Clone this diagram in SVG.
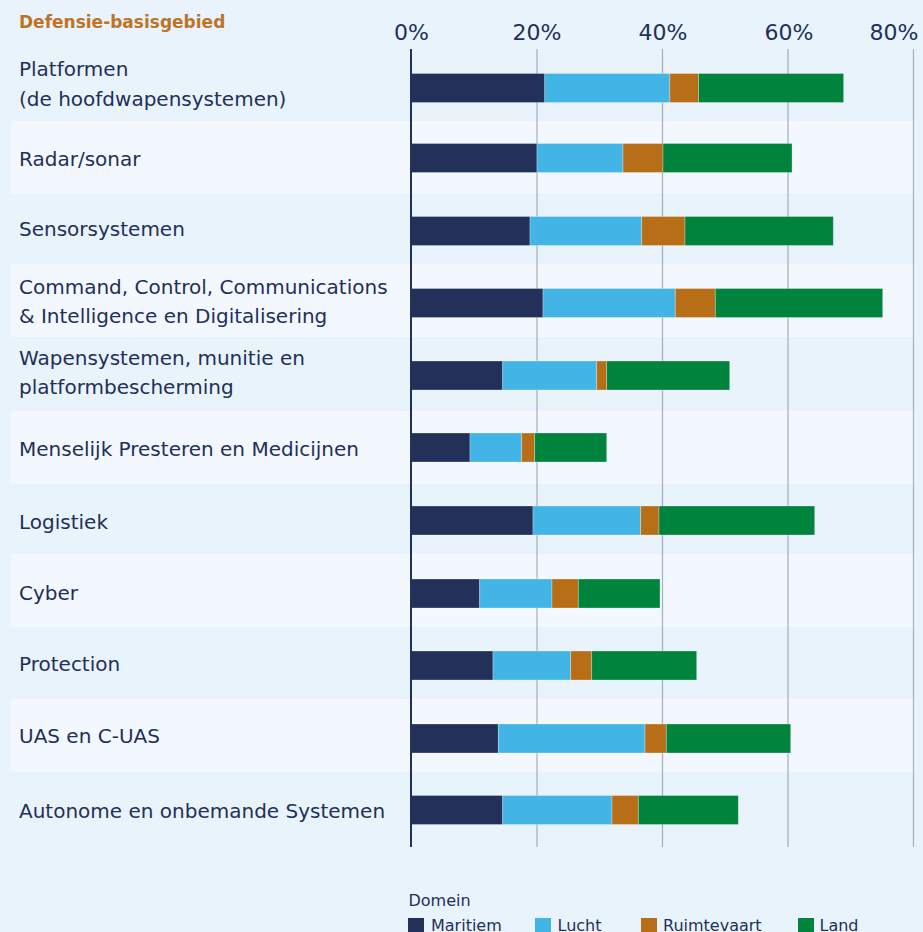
<svg xmlns="http://www.w3.org/2000/svg" width="923" height="932" viewBox="0 0 923 932">
<style>
.lbl{font-family:"DejaVu Sans",sans-serif;font-size:20px;fill:#22305A}
.tick{font-family:"DejaVu Sans",sans-serif;font-size:22px;fill:#22305A;text-anchor:middle}
.hdr{font-family:"DejaVu Sans",sans-serif;font-size:17px;font-weight:bold;fill:#BE7425}
.leg{font-family:"DejaVu Sans",sans-serif;font-size:16px;fill:#22305A}
.band{fill:#F3F8FE}
.grid{stroke:#A9B2BE;stroke-width:1.3}
.m{fill:#22305A}.l{fill:#42B4E6}.r{fill:#B86E17}.g{fill:#00843D}
.bar rect{stroke:#ffffff;stroke-opacity:0.35;stroke-width:0.8}
</style>
<rect x="0" y="0" width="923" height="932" fill="#E9F3FC"/>
<g id="bands">
<rect class="band" x="11" y="121" width="904" height="72.5"/>
<rect class="band" x="11" y="264" width="904" height="73"/>
<rect class="band" x="11" y="411" width="904" height="73"/>
<rect class="band" x="11" y="554" width="904" height="73"/>
<rect class="band" x="11" y="699" width="904" height="72.5"/>
</g>
<g id="grid">
<line class="grid" x1="537" y1="49" x2="537" y2="847"/>
<line class="grid" x1="662.5" y1="49" x2="662.5" y2="847"/>
<line class="grid" x1="788" y1="49" x2="788" y2="847"/>
<line class="grid" x1="913.5" y1="49" x2="913.5" y2="847"/>
</g>
<g id="ticks">
<text class="tick" x="411.5" y="40">0%</text>
<text class="tick" x="537" y="40">20%</text>
<text class="tick" x="663" y="40">40%</text>
<text class="tick" x="789" y="40">60%</text>
<text class="tick" x="918.5" y="40" style="text-anchor:end">80%</text>
</g>
<text class="hdr" x="19" y="27.5">Defensie-basisgebied</text>
<g id="labels">
<text class="lbl" x="19" y="76">Platformen</text>
<text class="lbl" x="19" y="106">(de hoofdwapensystemen)</text>
<text class="lbl" x="19" y="165.5">Radar/sonar</text>
<text class="lbl" x="19" y="235.5">Sensorsystemen</text>
<text class="lbl" x="19" y="294.3">Command, Control, Communications</text>
<text class="lbl" x="19" y="323.3">&amp; Intelligence en Digitalisering</text>
<text class="lbl" x="19" y="365">Wapensystemen, munitie en</text>
<text class="lbl" x="19" y="394.3">platformbescherming</text>
<text class="lbl" x="19" y="455.7">Menselijk Presteren en Medicijnen</text>
<text class="lbl" x="19" y="529.3">Logistiek</text>
<text class="lbl" x="19" y="600">Cyber</text>
<text class="lbl" x="19" y="671">Protection</text>
<text class="lbl" x="19" y="743.3">UAS en C-UAS</text>
<text class="lbl" x="19" y="817.7">Autonome en onbemande Systemen</text>
</g>
<g id="bars" class="bar">
<g id="bar-platformen"><rect class="m" x="411" y="73.5" width="133.8" height="29"/><rect class="l" x="544.8" y="73.5" width="125" height="29"/><rect class="r" x="669.8" y="73.5" width="28.8" height="29"/><rect class="g" x="698.6" y="73.5" width="145" height="29"/></g>
<g id="bar-radar"><rect class="m" x="411" y="143.5" width="126" height="29"/><rect class="l" x="537" y="143.5" width="86" height="29"/><rect class="r" x="623" y="143.5" width="40" height="29"/><rect class="g" x="663" y="143.5" width="129" height="29"/></g>
<g id="bar-sensor"><rect class="m" x="411" y="216.5" width="119" height="29"/><rect class="l" x="530" y="216.5" width="111.7" height="29"/><rect class="r" x="641.7" y="216.5" width="43.3" height="29"/><rect class="g" x="685" y="216.5" width="148.3" height="29"/></g>
<g id="bar-c2"><rect class="m" x="411" y="288.5" width="132" height="29"/><rect class="l" x="543" y="288.5" width="132.3" height="29"/><rect class="r" x="675.3" y="288.5" width="40" height="29"/><rect class="g" x="715.3" y="288.5" width="167.4" height="29"/></g>
<g id="bar-wapen"><rect class="m" x="411" y="361" width="91.7" height="29"/><rect class="l" x="502.7" y="361" width="94" height="29"/><rect class="r" x="596.7" y="361" width="10" height="29"/><rect class="g" x="606.7" y="361" width="123" height="29"/></g>
<g id="bar-menselijk"><rect class="m" x="411" y="433" width="59" height="29"/><rect class="l" x="470" y="433" width="51.7" height="29"/><rect class="r" x="521.7" y="433" width="13" height="29"/><rect class="g" x="534.7" y="433" width="72" height="29"/></g>
<g id="bar-logistiek"><rect class="m" x="411" y="506" width="122" height="29"/><rect class="l" x="533" y="506" width="107.7" height="29"/><rect class="r" x="640.7" y="506" width="18.3" height="29"/><rect class="g" x="659" y="506" width="155.7" height="29"/></g>
<g id="bar-cyber"><rect class="m" x="411" y="579" width="68.7" height="29"/><rect class="l" x="479.7" y="579" width="72.3" height="29"/><rect class="r" x="552" y="579" width="26.3" height="29"/><rect class="g" x="578.3" y="579" width="81.7" height="29"/></g>
<g id="bar-protection"><rect class="m" x="411" y="651" width="82" height="29"/><rect class="l" x="493" y="651" width="77.7" height="29"/><rect class="r" x="570.7" y="651" width="21" height="29"/><rect class="g" x="591.7" y="651" width="105" height="29"/></g>
<g id="bar-uas"><rect class="m" x="411" y="724" width="87.3" height="29"/><rect class="l" x="498.3" y="724" width="146.7" height="29"/><rect class="r" x="645" y="724" width="21.3" height="29"/><rect class="g" x="666.3" y="724" width="124.4" height="29"/></g>
<g id="bar-autonome"><rect class="m" x="411" y="795.5" width="91.7" height="29"/><rect class="l" x="502.7" y="795.5" width="109.3" height="29"/><rect class="r" x="612" y="795.5" width="26.3" height="29"/><rect class="g" x="638.3" y="795.5" width="100" height="29"/></g>
</g>
<g id="axis">
<line x1="411" y1="49" x2="411" y2="847" stroke="#22305A" stroke-width="2"/>
</g>
<g id="legend">
<text class="leg" x="408.5" y="905.5">Domein</text>
<rect class="m" x="408" y="918" width="16" height="16"/><text class="leg" x="431" y="931">Maritiem</text>
<rect class="l" x="535" y="918" width="16" height="16"/><text class="leg" x="557.5" y="931">Lucht</text>
<rect class="r" x="641" y="918" width="16" height="16"/><text class="leg" x="663" y="931">Ruimtevaart</text>
<rect class="g" x="798" y="918" width="16" height="16"/><text class="leg" x="819.5" y="931">Land</text>
</g>
</svg>
